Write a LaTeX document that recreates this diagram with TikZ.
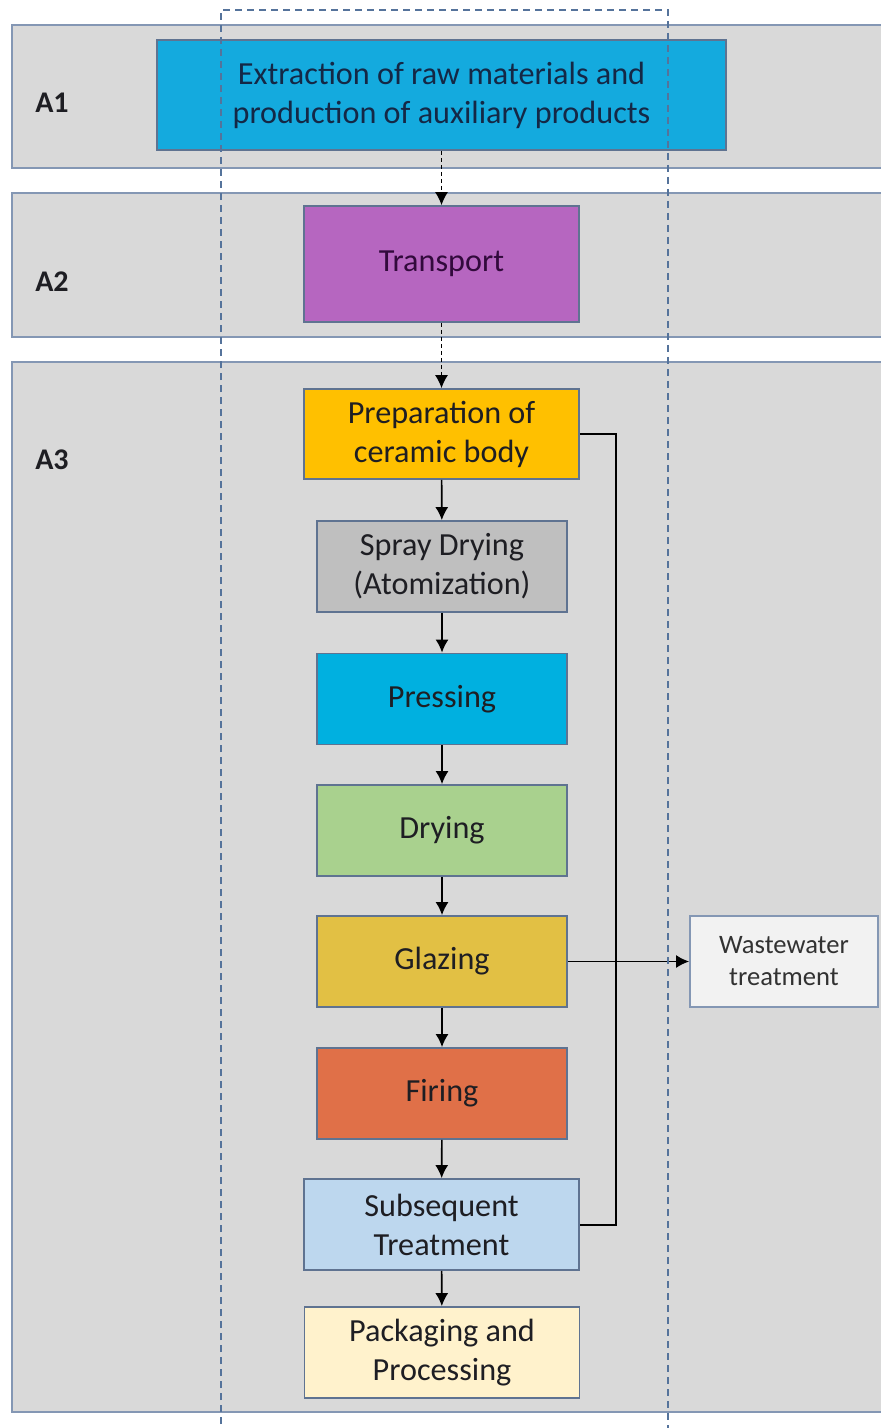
\documentclass[tikz,border=0pt]{standalone}
\usepackage{fontspec}
\setmainfont{Carlito}
\usetikzlibrary{arrows.meta}
\definecolor{bandfill}{RGB}{217,217,217}
\definecolor{bandline}{RGB}{132,151,180}
\definecolor{boxline}{RGB}{95,115,145}
\definecolor{dashc}{RGB}{85,115,155}
\definecolor{cExt}{RGB}{20,170,222}
\definecolor{cTra}{RGB}{182,102,192}
\definecolor{cPre}{RGB}{255,192,0}
\definecolor{cSpr}{RGB}{191,191,191}
\definecolor{cPrs}{RGB}{0,176,224}
\definecolor{cDry}{RGB}{169,209,142}
\definecolor{cGla}{RGB}{226,192,68}
\definecolor{cFir}{RGB}{224,112,72}
\definecolor{cSub}{RGB}{189,215,238}
\definecolor{cPac}{RGB}{255,242,204}
\definecolor{cWw}{RGB}{242,242,242}
\definecolor{txt}{RGB}{30,30,35}
\tikzset{
  band/.style={fill=bandfill, draw=bandline, line width=1.2pt},
  procbox/.style={draw=boxline, line width=0.9pt, align=center, inner sep=2pt,
    font=\fontsize{16.1}{19.5}\selectfont, text=txt},
  widebox/.style={procbox, minimum width=137.5pt, minimum height=45.5pt},
  narrowbox/.style={procbox, minimum width=125pt, minimum height=45.5pt},
  alabel/.style={font=\fontsize{15}{17}\selectfont\bfseries, text=txt},
  flow/.style={draw=black, line width=0.8pt, -{Latex[length=6.5pt,width=6.5pt]}},
  dflow/.style={flow, dash pattern=on 2pt off 1.5pt, line width=0.6pt},
  loopline/.style={draw=black, line width=1pt},
  frame/.style={draw=dashc, line width=1pt, dash pattern=on 3.5pt off 2.5pt}
}
\begin{document}
\begin{tikzpicture}[x=0.5pt,y=-0.5pt]
\useasboundingbox (0,0) rectangle (881,1428);
\clip (0,0) rectangle (881,1428);
\fill[white] (0,0) rectangle (881,1428);
% bands
\path[band] (12,25) rectangle (900,168);
\path[band] (12,193) rectangle (900,337);
\path[band] (12,362) rectangle (900,1412);
\node[alabel] (a1) at (52,103) {A1};
\node[alabel] (a2) at (52,282) {A2};
\node[alabel] (a3) at (52,460) {A3};
% boxes
\node[procbox, fill=cExt, minimum width=284.5pt, minimum height=55pt, text={rgb,255:red,20;green,40;blue,70}] (ext) at (441.5,95) {Extraction of raw materials and\\production of auxiliary products};
\node[procbox, fill=cTra, minimum width=137.5pt, minimum height=58pt, text={rgb,255:red,50;green,10;blue,60}] (tra) at (441.5,264) {Transport};
\node[widebox, fill=cPre, minimum height=45pt] (pre) at (441.5,434) {Preparation of\\ceramic body};
\node[narrowbox, fill=cSpr] (spr) at (442,566.5) {Spray Drying\\(Atomization)};
\node[narrowbox, fill=cPrs] (prs) at (442,699) {Pressing};
\node[narrowbox, fill=cDry] (dry) at (442,830.5) {Drying};
\node[narrowbox, fill=cGla] (gla) at (442,961.5) {Glazing};
\node[narrowbox, fill=cFir] (fir) at (442,1093.5) {Firing};
\node[widebox, fill=cSub] (sub) at (441.5,1224.5) {Subsequent\\Treatment};
\node[widebox, fill=cPac] (pac) at (442,1352.5) {Packaging and\\Processing};
\node[procbox, fill=cWw, draw=bandline, minimum width=94pt, minimum height=45.5pt, font=\fontsize{13.3}{16}\selectfont, text={rgb,255:red,50;green,50;blue,50}] (ww) at (784,961.5) {Wastewater\\treatment};
% connectors
\draw[dflow] (ext) -- (tra);
\draw[dflow] (tra) -- (pre);
\draw[flow] (pre) -- (spr);
\draw[flow] (spr) -- (prs);
\draw[flow] (prs) -- (dry);
\draw[flow] (dry) -- (gla);
\draw[flow] (gla) -- (fir);
\draw[flow] (fir) -- (sub);
\draw[flow] (sub) -- (pac);
\draw[loopline] (pre.east) -- ++(36,0) |- (sub.east);
\draw[flow] (gla.east) -- (ww.west);
% dashed frame
\draw[frame] (221,1460) -- (221,10) -- (668,10) -- (668,1460);
\end{tikzpicture}
\end{document}
